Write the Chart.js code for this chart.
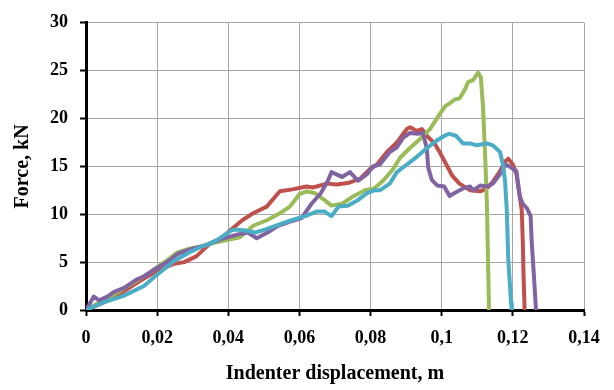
<!DOCTYPE html>
<html>
<head>
<meta charset="utf-8">
<script src="https://cdn.jsdelivr.net/npm/chart.js@4.4.1/dist/chart.umd.min.js"></script>
<style>
html,body{margin:0;padding:0;background:#fff;}
#c{display:block;}
</style>
</head>
<body>
<canvas id="c" width="614" height="390"></canvas>
<script>
const xTickValues = [0, 0.02, 0.04, 0.06, 0.08, 0.1, 0.12, 0.14];
const xTickLabels = ['0', '0,02', '0,04', '0,06', '0,08', '0,1', '0,12', '0,14'];
const yTickValues = [0, 5, 10, 15, 20, 25, 30];
const yTickLabels = ['0', '5', '10', '15', '20', '25', '30'];

const redX = [0, 0.005, 0.01, 0.015, 0.02, 0.0245, 0.0276, 0.031, 0.035, 0.0377, 0.0405, 0.044, 0.047, 0.0508, 0.0545, 0.058, 0.062, 0.0638, 0.0677, 0.0705, 0.074, 0.077, 0.0798, 0.0818, 0.0846, 0.0874, 0.0902, 0.0911, 0.093, 0.0944, 0.0958, 0.098, 0.0994, 0.1013, 0.103, 0.105, 0.108, 0.1108, 0.1127, 0.1144, 0.1164, 0.1178, 0.1187, 0.12, 0.121, 0.1219, 0.1225, 0.1228, 0.123, 0.1233];
const redY = [0, 0.8, 1.8, 3.0, 4.1, 4.8, 5.0, 5.6, 7.0, 7.4, 8.3, 9.4, 10.1, 10.8, 12.4, 12.6, 12.9, 12.8, 13.2, 13.1, 13.3, 13.7, 14.7, 15.2, 16.5, 17.5, 18.9, 19.1, 18.7, 18.9, 18.2, 17.4, 16.5, 15.2, 14.0, 13.2, 12.5, 12.4, 12.7, 13.4, 14.5, 15.5, 15.8, 15.2, 14.2, 12.0, 10.4, 7.1, 3.7, 0];

const greenX = [0, 0.0042, 0.0087, 0.0135, 0.0183, 0.0228, 0.0256, 0.029, 0.032, 0.0357, 0.0396, 0.0433, 0.047, 0.051, 0.0545, 0.0573, 0.060, 0.062, 0.0644, 0.067, 0.069, 0.072, 0.0748, 0.0784, 0.081, 0.0835, 0.0863, 0.0883, 0.091, 0.094, 0.0967, 0.0995, 0.101, 0.1023, 0.1037, 0.105, 0.1065, 0.1074, 0.1088, 0.1102, 0.111, 0.1116, 0.1122, 0.1127, 0.1133];
const greenY = [0, 0.9, 1.8, 2.9, 4.0, 5.2, 6.0, 6.4, 6.6, 7.0, 7.3, 7.6, 8.8, 9.4, 10.1, 10.8, 12.1, 12.4, 12.2, 11.5, 10.9, 11.1, 11.8, 12.5, 12.7, 13.5, 14.7, 15.9, 16.9, 17.9, 18.9, 20.5, 21.3, 21.6, 22.0, 22.1, 23.0, 23.8, 24.0, 24.8, 24.3, 21.3, 16.2, 11.1, 0];

const purpleX = [0, 0.0022, 0.0037, 0.006, 0.0079, 0.0107, 0.0143, 0.0163, 0.019, 0.0228, 0.026, 0.03, 0.034, 0.038, 0.0427, 0.0455, 0.048, 0.051, 0.054, 0.058, 0.0606, 0.0634, 0.066, 0.068, 0.069, 0.072, 0.0742, 0.0765, 0.079, 0.0807, 0.0826, 0.0854, 0.0874, 0.0892, 0.0911, 0.0933, 0.0947, 0.0958, 0.0962, 0.0972, 0.0988, 0.1007, 0.1022, 0.104, 0.106, 0.108, 0.1088, 0.1108, 0.1127, 0.1144, 0.1164, 0.118, 0.1194, 0.121, 0.1219, 0.1228, 0.124, 0.125, 0.1253, 0.1259, 0.1265];
const purpleY = [0, 1.4, 1.0, 1.4, 1.9, 2.3, 3.2, 3.5, 4.2, 5.0, 5.9, 6.4, 6.8, 7.4, 7.9, 8.1, 7.5, 8.1, 8.8, 9.3, 9.6, 11.1, 12.2, 13.5, 14.4, 13.9, 14.4, 13.5, 14.2, 15.0, 15.2, 16.5, 17.0, 18.0, 18.5, 18.4, 18.5, 16.9, 14.9, 13.6, 13.0, 12.9, 11.9, 12.3, 12.7, 12.9, 12.5, 13.0, 12.9, 13.2, 14.2, 15.2, 14.9, 14.5, 11.9, 11.1, 10.6, 9.8, 7.1, 3.7, 0];

const cyanX = [0, 0.005, 0.0107, 0.0163, 0.02, 0.0247, 0.0295, 0.0323, 0.034, 0.0368, 0.0408, 0.042, 0.0447, 0.0475, 0.0503, 0.054, 0.058, 0.0616, 0.065, 0.067, 0.069, 0.071, 0.0736, 0.0765, 0.079, 0.081, 0.0826, 0.0854, 0.0874, 0.0902, 0.093, 0.0958, 0.0986, 0.1013, 0.1022, 0.104, 0.106, 0.108, 0.1098, 0.1127, 0.1144, 0.1164, 0.1172, 0.1178, 0.1183, 0.1187, 0.1195, 0.1197];
const cyanY = [0, 0.8, 1.5, 2.5, 3.7, 5.1, 6.1, 6.6, 6.8, 7.3, 8.3, 8.4, 8.3, 8.1, 8.4, 8.9, 9.4, 9.8, 10.3, 10.3, 9.8, 10.8, 10.9, 11.5, 12.2, 12.5, 12.5, 13.2, 14.4, 15.2, 16.0, 16.9, 17.7, 18.3, 18.4, 18.2, 17.4, 17.4, 17.2, 17.4, 17.2, 16.5, 15.2, 13.5, 10.4, 5.4, 0.7, 0];

function pts(xs, ys) { return xs.map((x, i) => ({ x: x, y: ys[i] })); }

function ds(label, xs, ys, color, order) {
  return {
    label: label,
    data: pts(xs, ys),
    borderColor: color,
    backgroundColor: color,
    borderWidth: 4,
    pointRadius: 0,
    showLine: true,
    tension: 0,
    borderJoinStyle: 'round',
    borderCapStyle: 'round',
    order: order
  };
}

const fontFamily = "'Liberation Serif', 'Times New Roman', serif";

new Chart(document.getElementById('c'), {
  type: 'scatter',
  data: {
    datasets: [
      ds('Red', redX, redY, '#C0504D', 4),
      ds('Green', greenX, greenY, '#9BBB59', 3),
      ds('Purple', purpleX, purpleY, '#8064A2', 2),
      ds('Cyan', cyanX, cyanY, '#4BACC6', 1)
    ]
  },
  options: {
    responsive: false,
    devicePixelRatio: 1,
    animation: false,
    layout: { padding: { left: 0, right: 30, top: 14, bottom: 0 } },
    plugins: { legend: { display: false }, tooltip: { enabled: false } },
    scales: {
      x: {
        type: 'linear',
        min: 0,
        max: 0.14,
        afterBuildTicks: s => { s.ticks = xTickValues.map(v => ({ value: v })); },
        afterFit: s => { s.height = 80; },
        grid: { color: '#a6a6a6', lineWidth: 1, tickColor: '#000', tickWidth: 2, tickLength: 6 },
        border: { color: '#000', width: 3 },
        ticks: {
          callback: (v, i) => xTickLabels[i],
          color: '#000',
          padding: 12,
          maxRotation: 0,
          autoSkip: false,
          font: { family: fontFamily, size: 18, weight: 'bold' }
        },
        title: {
          display: true,
          text: 'Indenter displacement, m',
          color: '#000',
          padding: { top: 0, bottom: 4 },
          font: { family: fontFamily, size: 20, weight: 'bold' }
        }
      },
      y: {
        type: 'linear',
        min: 0,
        max: 30,
        afterBuildTicks: s => { s.ticks = yTickValues.map(v => ({ value: v })); },
        afterFit: s => { s.width = 86; },
        grid: { color: '#a6a6a6', lineWidth: 1, tickColor: '#000', tickWidth: 2, tickLength: 6 },
        border: { color: '#000', width: 3 },
        ticks: {
          callback: (v, i) => yTickLabels[i],
          color: '#000',
          padding: 12,
          autoSkip: false,
          font: { family: fontFamily, size: 18, weight: 'bold' }
        },
        title: {
          display: true,
          text: 'Force, kN',
          color: '#000',
          padding: { top: 11, bottom: 0 },
          font: { family: fontFamily, size: 20, weight: 'bold' }
        }
      }
    }
  }
});
</script>
</body>
</html>
